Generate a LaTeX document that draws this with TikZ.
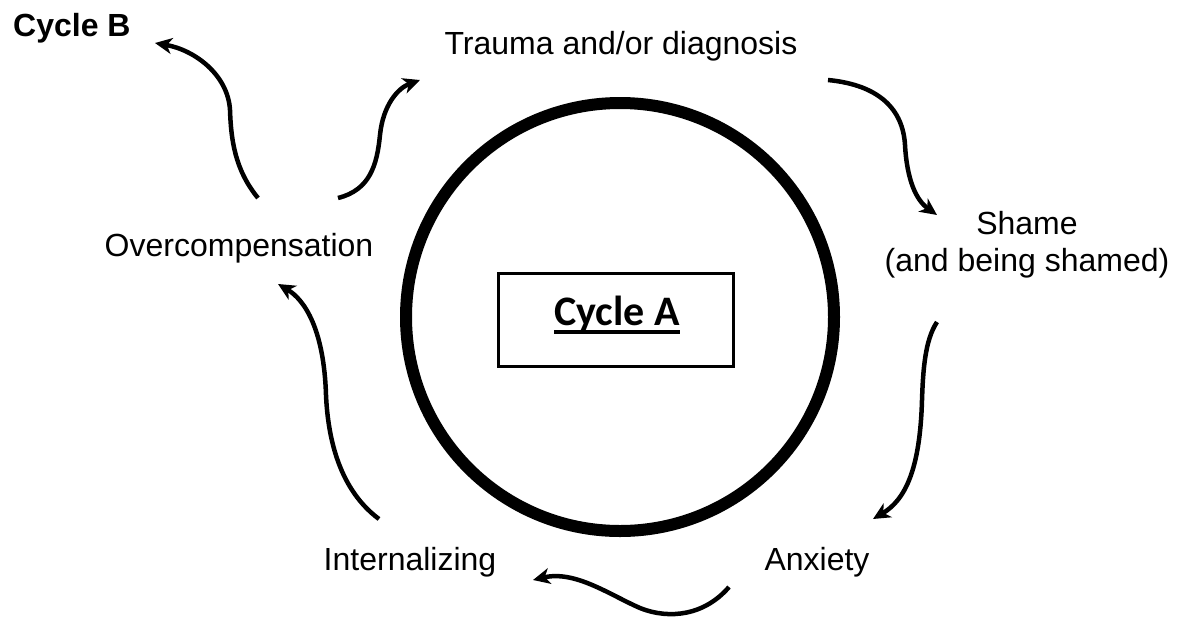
\documentclass[tikz,border=0pt]{standalone}
\usepackage{fontspec}
\setmainfont{Liberation Sans}
\newfontfamily\calibrifont{Carlito}
\usetikzlibrary{arrows.meta}
\newcommand\ulinetext[1]{\setbox0\hbox{#1}\rlap{\rule[-9pt]{\wd0}{4pt}}\box0}
\tikzset{
	stagetext/.style={font=\fontsize{32}{37}\selectfont, inner sep=0pt, anchor=base},
	flow/.style={line width=4.5pt, -{Stealth[length=17pt,width=16pt,inset=5pt]}},
}

\begin{document}
\begin{tikzpicture}[x=1pt,y=-1pt]
	\useasboundingbox (0,0) rectangle (1185,619);

	% inner cycle
	\node[circle, draw, line width=12pt, minimum size=428pt, inner sep=0pt] (ring) at (620,317) {};
	\node[draw, line width=3pt, minimum width=235pt, minimum height=93pt] (boxA) at (616,320) {};
	\node[anchor=base, inner sep=0pt, font=\calibrifont\bfseries\fontsize{42}{50}\selectfont] (titleA) at (617,325) {\ulinetext{Cycle A}};

	% stages
	\node[stagetext, anchor=base west, font=\bfseries\fontsize{32}{37}\selectfont] (titleB) at (13,36) {Cycle B};
	\node[stagetext] (trauma) at (621,54) {Trauma and/or diagnosis};
	\node[stagetext, align=center, anchor=north] (shame) at (1027,211) {Shame\\(and being shamed)};
	\node[stagetext] (anxiety) at (817,570) {Anxiety};
	\node[stagetext] (intern) at (410,570) {Internalizing};
	\node[stagetext] (overcomp) at (239,256) {Overcompensation};

	% arrow ends
	\coordinate (b0) at (258,198); \coordinate (b1) at (155,43);
	\coordinate (t0) at (338,198); \coordinate (t1) at (420,80);
	\coordinate (s0) at (828,80);  \coordinate (s1) at (937,215);
	\coordinate (a0) at (937,322); \coordinate (a1) at (873,519);
	\coordinate (i0) at (729,587); \coordinate (i1) at (533,580);
	\coordinate (o0) at (379,519); \coordinate (o1) at (278,284);

	\draw[flow] (b0) .. controls (235,170) and (231,140) .. (230,110) .. controls (228,75) and (195,50) .. (b1);
	\draw[flow] (t0) .. controls (370,190) and (377,165) .. (380,135) .. controls (383,105) and (398,88) .. (t1);
	\draw[flow] (s0) .. controls (880,85) and (903,110) .. (905,145) .. controls (907,180) and (916,200) .. (s1);
	\draw[flow] (a0) .. controls (925,340) and (923,370) .. (922,400) .. controls (920,470) and (905,500) .. (a1);
	\draw[flow] (i0) .. controls (705,615) and (670,620) .. (640,608) .. controls (610,595) and (575,570) .. (i1);
	\draw[flow] (o0) .. controls (340,490) and (328,440) .. (326,395) .. controls (324,330) and (305,300) .. (o1);
\end{tikzpicture}
\end{document}
